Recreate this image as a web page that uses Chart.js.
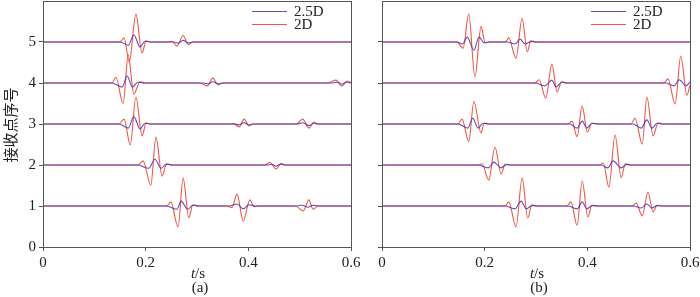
<!DOCTYPE html>
<html>
<head>
<meta charset="utf-8">
<script src="https://cdn.jsdelivr.net/npm/chart.js@4.4.1/dist/chart.umd.min.js"></script>
<style>
  html, body { margin: 0; padding: 0; background: #fff; }
  #wrap { position: relative; width: 700px; height: 297px; overflow: hidden; }
  canvas { position: absolute; top: 0; }
</style>
</head>
<body>
<div id="wrap">
  <canvas id="chartA" width="380" height="297" style="left:0"></canvas>
  <canvas id="chartB" width="360" height="297" style="left:340px"></canvas>
</div>
<script>
// receiver offsets (trace number) and x ticks
const receivers = [1, 2, 3, 4, 5];
const xTicks = [0, 0.2, 0.4, 0.6];
const yTicks = [0, 1, 2, 3, 4, 5];
const legendNames = ["2.5D", "2D"];

// amplitudes [t, a] per receiver; panel (a)
const a2D = [
  [[0,0],[0.241,0],[0.249,0.10],[0.263,-0.51],[0.273,0.68],[0.284,-0.29],[0.292,0.03],[0.304,0],[0.358,0],[0.368,-0.04],[0.378,0.29],[0.390,-0.37],[0.403,0.15],[0.411,-0.02],[0.419,0],[0.491,0],[0.507,-0.12],[0.518,0.15],[0.526,-0.08],[0.536,0],[0.6,0]],
  [[0,0],[0.185,0],[0.195,0.10],[0.210,-0.49],[0.220,0.68],[0.232,-0.27],[0.241,0.03],[0.251,0],[0.432,0],[0.442,0.06],[0.454,-0.10],[0.464,0.04],[0.471,0],[0.6,0]],
  [[0,0],[0.148,0],[0.158,0.12],[0.170,-0.51],[0.181,0.66],[0.193,-0.29],[0.201,0.03],[0.208,0],[0.364,0],[0.372,0.01],[0.382,-0.07],[0.392,0.12],[0.401,-0.05],[0.409,0],[0.493,0],[0.506,0.12],[0.518,-0.10],[0.528,0.05],[0.534,0],[0.6,0]],
  [[0,0],[0.134,0],[0.142,0.14],[0.156,-0.50],[0.166,0.68],[0.177,-0.27],[0.189,0.03],[0.199,0],[0.306,0],[0.320,-0.07],[0.331,0.12],[0.341,-0.05],[0.349,0],[0.555,0],[0.571,0.07],[0.582,-0.08],[0.592,0.05],[0.6,0.01]],
  [[0,0],[0.150,0],[0.158,0.10],[0.168,-0.49],[0.181,0.68],[0.193,-0.27],[0.201,0.03],[0.208,0],[0.244,0],[0.251,0.02],[0.261,-0.10],[0.273,0.16],[0.283,-0.06],[0.292,0],[0.6,0]]
];
const a25D = [
  [[0,0],[0.241,0],[0.261,-0.08],[0.269,0.12],[0.282,-0.08],[0.292,0.02],[0.300,0],[0.362,0],[0.378,0.05],[0.390,-0.07],[0.401,0.03],[0.415,0],[0.495,0],[0.505,0.02],[0.516,-0.03],[0.526,0.02],[0.536,0],[0.6,0]],
  [[0,0],[0.185,0],[0.206,-0.08],[0.218,0.14],[0.230,-0.08],[0.240,0.02],[0.250,0],[0.440,0],[0.446,0.02],[0.454,-0.03],[0.462,0.02],[0.471,0],[0.6,0]],
  [[0,0],[0.148,0],[0.166,-0.10],[0.177,0.18],[0.189,-0.12],[0.199,0.02],[0.208,0],[0.370,0],[0.382,-0.02],[0.392,0.03],[0.401,-0.02],[0.409,0],[0.495,0],[0.506,0.03],[0.518,-0.04],[0.528,0.02],[0.534,0],[0.6,0]],
  [[0,0],[0.134,0],[0.154,-0.10],[0.164,0.17],[0.174,-0.10],[0.185,0.02],[0.195,0],[0.312,0],[0.322,-0.02],[0.331,0.03],[0.341,-0.02],[0.349,0],[0.565,0],[0.574,0.02],[0.582,-0.03],[0.592,0.02],[0.6,0]],
  [[0,0],[0.150,0],[0.166,-0.08],[0.177,0.17],[0.189,-0.12],[0.199,0.02],[0.208,0],[0.255,0],[0.263,-0.03],[0.273,0.04],[0.283,-0.02],[0.292,0],[0.6,0]]
];

// panel (b)
const b2D = [
  [[0,0],[0.240,0],[0.247,0.10],[0.261,-0.51],[0.273,0.68],[0.284,-0.29],[0.292,0.03],[0.302,0],[0.360,0],[0.368,0.10],[0.380,-0.47],[0.390,0.61],[0.401,-0.27],[0.409,0.02],[0.421,0],[0.487,0],[0.495,0.07],[0.507,-0.24],[0.518,0.34],[0.528,-0.15],[0.536,0.02],[0.545,0],[0.6,0]],
  [[0,0],[0.187,0],[0.195,0.03],[0.208,-0.37],[0.220,0.44],[0.232,-0.22],[0.240,0.02],[0.249,0],[0.425,0],[0.431,0.05],[0.442,-0.54],[0.454,0.73],[0.466,-0.31],[0.474,0.03],[0.485,0],[0.6,0]],
  [[0,0],[0.148,0],[0.156,0.12],[0.169,-0.43],[0.179,0.55],[0.193,-0.22],[0.199,0.02],[0.210,0],[0.362,0],[0.370,0.07],[0.380,-0.31],[0.390,0.44],[0.400,-0.20],[0.409,0.02],[0.421,0],[0.485,0],[0.493,0.14],[0.507,-0.49],[0.516,0.66],[0.528,-0.29],[0.538,0.03],[0.547,0],[0.6,0]],
  [[0,0],[0.298,0],[0.306,0.08],[0.319,-0.37],[0.331,0.46],[0.341,-0.22],[0.350,0.03],[0.360,0],[0.549,0],[0.557,0.10],[0.571,-0.51],[0.582,0.66],[0.594,-0.30],[0.6,-0.05]],
  [[0,0],[0.146,0],[0.158,-0.15],[0.169,0.68],[0.181,-0.85],[0.193,0.38],[0.201,-0.02],[0.210,0],[0.240,0],[0.247,0.10],[0.261,-0.40],[0.273,0.58],[0.283,-0.24],[0.290,0.03],[0.302,0],[0.6,0]]
];
const b25D = [
  [[0,0],[0.240,0],[0.259,-0.07],[0.271,0.12],[0.281,-0.07],[0.292,0.01],[0.300,0],[0.362,0],[0.380,-0.07],[0.390,0.10],[0.399,-0.07],[0.409,0.01],[0.419,0],[0.489,0],[0.505,-0.05],[0.516,0.05],[0.526,-0.05],[0.536,0.01],[0.545,0],[0.6,0]],
  [[0,0],[0.187,0],[0.207,-0.07],[0.218,0.07],[0.232,-0.07],[0.242,0.01],[0.249,0],[0.427,0],[0.440,-0.07],[0.450,0.10],[0.466,-0.07],[0.476,0.01],[0.485,0],[0.6,0]],
  [[0,0],[0.148,0],[0.167,-0.10],[0.177,0.14],[0.187,-0.10],[0.197,0.02],[0.206,0],[0.366,0],[0.380,-0.10],[0.390,0.07],[0.399,-0.10],[0.409,0.02],[0.419,0],[0.489,0],[0.505,-0.10],[0.516,0.10],[0.526,-0.10],[0.536,0.02],[0.545,0],[0.6,0]],
  [[0,0],[0.298,0],[0.317,-0.07],[0.331,0.07],[0.339,-0.10],[0.350,0.02],[0.358,0],[0.553,0],[0.569,-0.07],[0.579,0.08],[0.592,-0.07],[0.6,0.02]],
  [[0,0],[0.146,0],[0.157,-0.05],[0.166,0.12],[0.179,-0.20],[0.189,0.12],[0.199,-0.02],[0.208,0],[0.244,0],[0.259,-0.05],[0.269,0.07],[0.279,-0.05],[0.290,0.01],[0.300,0],[0.6,0]]
];

const RED = "#f25545";
const BLUE = "rgba(64, 52, 170, 0.85)";
const AXIS = "#555";
const SERIF = "'Liberation Serif', 'DejaVu Serif', serif";

function buildDatasets(reds, blues) {
  const sets = [];
  receivers.forEach((r, i) => {
    sets.push({
      label: legendNames[0],
      data: blues[i].map(([t, a]) => ({ x: t, y: r + a })),
      borderColor: BLUE, borderWidth: 1.1, order: 0
    });
    sets.push({
      label: legendNames[1],
      data: reds[i].map(([t, a]) => ({ x: t, y: r + a })),
      borderColor: RED, borderWidth: 1.1, order: 1
    });
  });
  return sets;
}

const decor = {
  id: "decor",
  afterDraw(chart, args, opts) {
    const { ctx, chartArea: ca } = chart;
    ctx.save();
    ctx.strokeStyle = AXIS;
    ctx.lineWidth = 1;
    ctx.strokeRect(Math.round(ca.left) + 0.5, Math.round(ca.top) + 0.5,
      Math.round(ca.right - ca.left), Math.round(ca.bottom - ca.top));

    // legend
    const lx = ca.right - 99;
    [[BLUE, legendNames[0], 11], [RED, legendNames[1], 24]].forEach(([c, txt, y]) => {
      ctx.strokeStyle = c;
      ctx.lineWidth = 1.2;
      ctx.beginPath();
      ctx.moveTo(lx, y + 0.5);
      ctx.lineTo(lx + 35, y + 0.5);
      ctx.stroke();
      ctx.fillStyle = "#222";
      ctx.font = "15px " + SERIF;
      ctx.textBaseline = "middle";
      ctx.textAlign = "left";
      ctx.fillText(txt, lx + 42, y + 1);
    });

    // x title t/s and panel tag
    const cx = (ca.left + ca.right) / 2 + 1;
    ctx.fillStyle = "#222";
    ctx.textBaseline = "middle";
    ctx.font = "italic 15px " + SERIF;
    const wT = ctx.measureText("t").width;
    ctx.font = "15px " + SERIF;
    const wS = ctx.measureText("/s").width;
    const x0 = cx - (wT + wS) / 2;
    ctx.textAlign = "left";
    ctx.font = "italic 15px " + SERIF;
    ctx.fillText("t", x0, 274);
    ctx.font = "15px " + SERIF;
    ctx.fillText("/s", x0 + wT, 274);
    ctx.textAlign = "center";
    ctx.fillText(opts.tag, cx + 2, 288);

    if (opts.ylabel) {
      ctx.save();
      ctx.translate(10, 125);
      ctx.rotate(-Math.PI / 2);
      ctx.font = "15px 'Noto Sans CJK SC'";
      ctx.textAlign = "center";
      ctx.textBaseline = "middle";
      ctx.fillText(opts.ylabel, 0, 0);
      ctx.restore();
    }
    ctx.restore();
  }
};

function makeChart(el, reds, blues, tag, ylabel, showYLabels, padRight) {
  return new Chart(el, {
    type: "line",
    data: { datasets: buildDatasets(reds, blues) },
    plugins: [decor],
    options: {
      responsive: false,
      animation: false,
      devicePixelRatio: 1,
      layout: { padding: { left: 0, top: 1, right: padRight, bottom: 0 } },
      elements: {
        point: { radius: 0 },
        line: { cubicInterpolationMode: "monotone", fill: false }
      },
      plugins: {
        legend: { display: false },
        tooltip: { enabled: false },
        decor: { tag, ylabel }
      },
      scales: {
        x: {
          type: "linear", min: 0, max: 0.6,
          border: { display: false },
          grid: { drawOnChartArea: false, drawTicks: true, tickLength: 4, color: AXIS },
          afterBuildTicks: s => { s.ticks = xTicks.map(v => ({ value: v })); },
          afterFit: s => { s.height = 50; s.paddingLeft = 0; s.paddingRight = 0; },
          ticks: {
            color: "#222", padding: 3, maxRotation: 0,
            font: { family: SERIF, size: 15 },
            callback: v => String(v)
          }
        },
        y: {
          type: "linear", min: 0, max: 6,
          border: { display: false },
          grid: { drawOnChartArea: false, drawTicks: true, tickLength: 4, color: AXIS },
          afterBuildTicks: s => { s.ticks = yTicks.map(v => ({ value: v })); },
          afterFit: s => { s.width = showYLabels ? 43 : 42; s.paddingTop = 0; s.paddingBottom = 0; },
          ticks: {
            display: showYLabels, color: "#222", padding: 3,
            font: { family: SERIF, size: 15 }
          }
        }
      }
    }
  });
}

makeChart(document.getElementById("chartA"), a2D, a25D, "(a)", "接收点序号", true, 29);
makeChart(document.getElementById("chartB"), b2D, b25D, "(b)", null, false, 10);
</script>
</body>
</html>
